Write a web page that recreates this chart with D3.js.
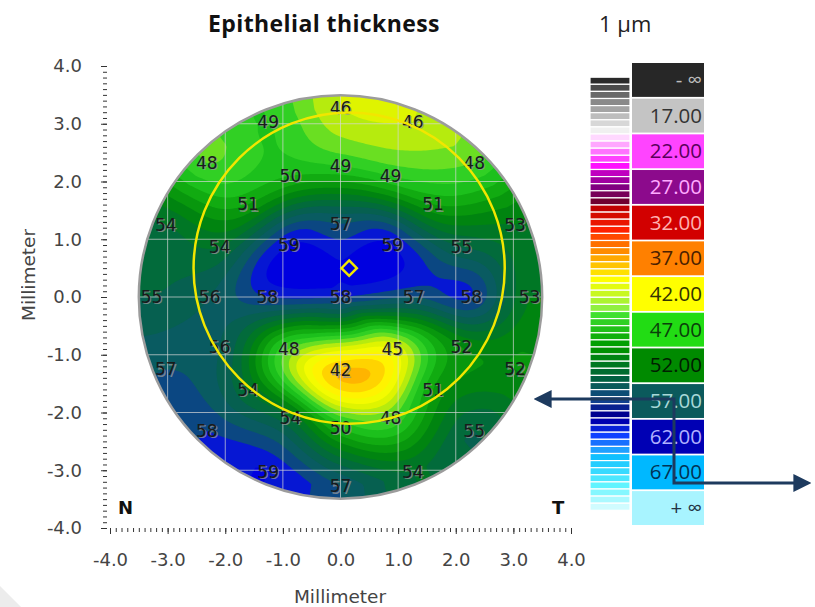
<!DOCTYPE html>
<html>
<head>
<meta charset="utf-8">
<script src="https://cdn.jsdelivr.net/npm/d3@7"></script>
<style>
  body { margin: 0; background: #fff; }
  svg { display: block; font-family: "DejaVu Sans", Verdana, sans-serif; }
</style>
</head>
<body>
<svg id="chart"></svg>
<script>
const svgWidth = 815;
const svgHeight = 607;

// zone values in µm, as printed on the map (angles counter-clockwise from +x)
const centerValue = 58;
const innerRing = [57, 59, 57, 59, 58, 48, 42, 45];
const middleRing = [58, 55, 51, 49, 49, 50, 51, 54, 56, 56, 54, 54, 50, 48, 51, 52];
const outerRing = [53, 53, 48, 46, 46, 49, 48, 54, 55, 57, 58, 59, 57, 54, 55, 52];
const ringRadius = [0, 1.27, 2.27, 3.28];
const mapRadius = 3.5;

// pupil / optical zone (mm)
const pupilCenter = [0.15, 0.5];
const zoneRadius = 2.7;

const axisTicks = [-4, -3, -2, -1, 0, 1, 2, 3, 4];

// colour key
const legendLabels = ["- ∞", "17.00", "22.00", "27.00", "32.00", "37.00", "42.00", "47.00", "52.00", "57.00", "62.00", "67.00", "+ ∞"];
const legendFill = ["#272727", "#c4c4c4", "#ff44ff", "#8c0a8c", "#d20000", "#ff8000", "#ffff00", "#22dc14", "#008a00", "#0b5a5c", "#0000b4", "#00b8ff", "#a8f4ff"];
const legendInk = ["#bdbdbd", "#333333", "#5a005a", "#ffaaff", "#ffb0b0", "#4a2000", "#333300", "#0a400a", "#002000", "#a8d8d8", "#b0b0ff", "#003355", "#223344"];
const stripeValues = [14, 15, 16, 17, 18, 19, 20, 21, 22, 23, 24, 25, 26, 27, 28, 29, 30, 31, 32, 33, 34, 35, 36, 37, 38, 39, 40, 41, 42, 43, 44, 45, 46, 47, 48, 49, 50, 51, 52, 53, 54, 55, 56, 57, 58, 59, 60, 61, 62, 63, 64, 65, 66, 67, 68, 69, 70, 71, 72, 73, 74];
const keyStops = [14, 17, 21, 22, 26, 27, 29, 31, 32, 35, 37, 41, 42, 46, 47, 51, 52, 56, 57, 59, 61, 62, 64, 66, 67, 71, 74];
const keyColors = ["#2a2a2a", "#8a8a8a", "#f0f0f0", "#ffd8ff", "#ff10ff", "#c000c0", "#800080", "#700030", "#c00000", "#ff2000", "#ff7000", "#ffe000", "#ffff00", "#90f040", "#40e030", "#00a000", "#009000", "#006040", "#0a5a5a", "#104090", "#000090", "#0000b0", "#1040ff", "#20a0ff", "#10c0ff", "#60f4ff", "#d0fcff"];

// surface colouring of the map
const surfaceStops = [40, 42, 43, 44, 46, 47, 48, 49.5, 51, 52.5, 54, 55.5, 56.8, 57.6, 58.3, 59, 60];
const surfaceColors = ["#ff9000", "#ffc000", "#ffe600", "#ffff00", "#d4f000", "#98e61c", "#3cd828", "#1cc01c", "#0ca00c", "#008410", "#007030", "#066050", "#0a5a66", "#0b4486", "#0820c8", "#0000f0", "#0000d0"];

const svg = d3.select("#chart")
  .attr("width", svgWidth)
  .attr("height", svgHeight);

const x = d3.scaleLinear().domain([-4, 4]).range([110, 571]);
const y = d3.scaleLinear().domain([-4, 4]).range([528, 66]);

const keyColor = d3.scaleLinear().domain(keyStops).range(keyColors).clamp(true);
const surfaceColor = d3.scaleLinear().domain(surfaceStops).range(surfaceColors).clamp(true);

// faint corner shape
svg.append("polygon")
  .attr("points", "0,586 21,607 0,607")
  .attr("fill", "#ececec");

// ---- thickness surface from the zone values ----
function cr(p0, p1, p2, p3, f) {
  return 0.5 * (2 * p1 + (p2 - p0) * f + (2 * p0 - 5 * p1 + 4 * p2 - p3) * f * f + (3 * p1 - p0 - 3 * p2 + p3) * f * f * f);
}
function ringAt(ring, a) {
  const n = ring.length;
  const t = (((a / (2 * Math.PI)) * n) % n + n) % n;
  const i = Math.floor(t), f = t - i;
  const g = k => ring[((k % n) + n) % n];
  return cr(g(i - 1), g(i), g(i + 1), g(i + 2), f);
}
function thickness(px, py) {
  const r = Math.hypot(px, py), a = Math.atan2(py, px);
  const rr = [-ringRadius[1], 0, ringRadius[1], ringRadius[2], ringRadius[3], ringRadius[3] + 1];
  const v = [ringAt(innerRing, a + Math.PI), centerValue, ringAt(innerRing, a),
             ringAt(middleRing, a), ringAt(outerRing, a), ringAt(outerRing, a)];
  if (r >= rr[4]) return v[4];
  let k = 1;
  while (r > rr[k + 1]) k++;
  const f = (r - rr[k]) / (rr[k + 1] - rr[k]);
  return cr(v[k - 1], v[k], v[k + 1], v[k + 2], f);
}

const step = 0.04;
const n = Math.round(7.2 / step) + 1;
const grid = new Float64Array(n * n);
for (let j = 0; j < n; j++) {
  for (let i = 0; i < n; i++) {
    grid[i + j * n] = thickness(-3.6 + i * step, 3.6 - j * step);
  }
}
const contours = d3.contours().size([n, n]).thresholds(d3.range(36, 66, 1))(grid);
const proj = d3.geoTransform({
  point(gx, gy) { this.stream.point(x(-3.6 + (gx - 0.5) * step), y(3.6 - (gy - 0.5) * step)); }
});
const path = d3.geoPath(proj);

const rPx = x(mapRadius) - x(0);
const defs = svg.append("defs");
defs.append("clipPath").attr("id", "disc")
  .append("circle")
  .attr("cx", x(0)).attr("cy", y(0)).attr("r", rPx);
defs.append("clipPath").attr("id", "edge")
  .append("rect").attr("x", 21).attr("y", 0).attr("width", 200).attr("height", svgHeight);

const map = svg.append("g").attr("clip-path", "url(#disc)");
map.selectAll("path")
  .data(contours)
  .enter().append("path")
  .attr("d", path)
  .attr("fill", d => surfaceColor(d.value + 0.5));

// grid lines
const gridVals = [-3, -2, -1, 0, 1, 2, 3];
map.selectAll("line.v").data(gridVals).enter().append("line")
  .attr("x1", d => x(d)).attr("x2", d => x(d))
  .attr("y1", y(3.6)).attr("y2", y(-3.6))
  .attr("stroke", "rgba(215,215,215,0.7)").attr("stroke-width", 1);
map.selectAll("line.h").data(gridVals).enter().append("line")
  .attr("y1", d => y(d)).attr("y2", d => y(d))
  .attr("x1", x(-3.6)).attr("x2", x(3.6))
  .attr("stroke", "rgba(215,215,215,0.7)").attr("stroke-width", 1);

svg.append("circle")
  .attr("cx", x(0)).attr("cy", y(0)).attr("r", rPx)
  .attr("fill", "none").attr("stroke", "#9c9c9c").attr("stroke-width", 2.5);

// zone labels
const zones = [{ r: 0, a: 0, v: centerValue }];
[innerRing, middleRing, outerRing].forEach((ring, ri) => {
  ring.forEach((v, k) => zones.push({ r: ringRadius[ri + 1], a: k * 2 * Math.PI / ring.length, v }));
});
const zoneG = svg.append("g")
  .attr("font-size", 17)
  .attr("text-anchor", "middle")
  .attr("dominant-baseline", "central");
zoneG.selectAll("text.shadow").data(zones).enter().append("text")
  .attr("x", d => x(d.r * Math.cos(d.a)) + 1.2)
  .attr("y", d => y(d.r * Math.sin(d.a)) + 1.2)
  .attr("fill", "rgba(150,150,150,0.75)")
  .text(d => d.v);
zoneG.selectAll("text.val").data(zones).enter().append("text")
  .attr("x", d => x(d.r * Math.cos(d.a)))
  .attr("y", d => y(d.r * Math.sin(d.a)))
  .attr("fill", "#1a1a1a")
  .text(d => d.v);

// optical zone and pupil centre
svg.append("circle")
  .attr("cx", x(pupilCenter[0])).attr("cy", y(pupilCenter[1]))
  .attr("r", x(zoneRadius) - x(0))
  .attr("fill", "none").attr("stroke", "#f2e600").attr("stroke-width", 2.5);
svg.append("path")
  .attr("d", d3.symbol(d3.symbolDiamond2, 150)())
  .attr("transform", `translate(${x(pupilCenter[0])},${y(pupilCenter[1])})`)
  .attr("fill", "none").attr("stroke", "#f2e600").attr("stroke-width", 2.5);

// ---- axes ----
const fmt = d => d.toFixed(1);
const minorTicks = d3.range(-40, 41).map(d => d / 10);
svg.append("g")
  .attr("transform", `translate(107,0)`)
  .call(d3.axisLeft(y).tickValues(minorTicks).tickSize(4).tickFormat(""))
  .call(g => g.select(".domain").remove())
  .call(g => g.selectAll("line").attr("stroke", "#333"));
svg.append("g")
  .attr("transform", `translate(107,0)`)
  .call(d3.axisLeft(y).tickValues(axisTicks).tickSize(6).tickPadding(19).tickFormat(fmt))
  .call(g => g.select(".domain").remove())
  .call(g => g.selectAll("line").attr("stroke", "#333"))
  .call(g => g.selectAll("text").attr("font-size", 18).attr("fill", "#444").attr("font-family", "DejaVu Sans"));

svg.append("g")
  .attr("transform", `translate(0,528)`)
  .call(d3.axisBottom(x).tickValues(minorTicks).tickSize(4).tickFormat(""))
  .call(g => g.select(".domain").remove())
  .call(g => g.selectAll("line").attr("stroke", "#333"));
svg.append("g")
  .attr("transform", `translate(0,528)`)
  .call(d3.axisBottom(x).tickValues(axisTicks).tickSize(6).tickPadding(19).tickFormat(fmt))
  .call(g => g.select(".domain").remove())
  .call(g => g.selectAll("line").attr("stroke", "#333"))
  .call(g => g.selectAll("text").attr("font-size", 18).attr("fill", "#444").attr("font-family", "DejaVu Sans"));

svg.append("text")
  .attr("x", 340).attr("y", 603)
  .attr("text-anchor", "middle")
  .attr("font-size", 18.5).attr("fill", "#444")
  .text("Millimeter");
svg.append("g").attr("clip-path", "url(#edge)")
  .append("text")
  .attr("transform", "translate(35,275) rotate(-90)")
  .attr("text-anchor", "middle")
  .attr("font-size", 18.5).attr("fill", "#444")
  .text("Millimeter");

svg.append("text").attr("x", 118).attr("y", 514)
  .attr("font-size", 18).attr("font-weight", "bold").attr("fill", "#111").text("N");
svg.append("text").attr("x", 552).attr("y", 514)
  .attr("font-size", 18).attr("font-weight", "bold").attr("fill", "#111").text("T");

// title
svg.append("text")
  .attr("x", 324).attr("y", 32)
  .attr("text-anchor", "middle")
  .attr("font-family", "Open Sans").attr("font-weight", "bold").attr("font-size", 23)
  .attr("letter-spacing", 0.4)
  .attr("fill", "#111")
  .text("Epithelial thickness");
svg.append("text")
  .attr("x", 599).attr("y", 32)
  .attr("font-family", "Open Sans").attr("font-size", 22)
  .attr("fill", "#222")
  .text("1 µm");

// ---- colour key ----
const band = d3.scaleBand().domain(legendLabels).range([63, 525]).paddingInner(0.05);
const key = svg.append("g");
key.selectAll("rect.box").data(legendLabels).enter().append("rect")
  .attr("x", 632).attr("width", 72)
  .attr("y", d => band(d)).attr("height", band.bandwidth())
  .attr("fill", (d, i) => legendFill[i]);
key.selectAll("text").data(legendLabels).enter().append("text")
  .attr("x", 702)
  .attr("y", d => band(d) + band.bandwidth() / 2 + 7)
  .attr("text-anchor", "end")
  .attr("font-family", "Open Sans").attr("font-size", 20.5)
  .attr("fill", (d, i) => legendInk[i])
  .text(d => d);

const stripeY = d3.scaleLinear().domain([17, 22]).range([98.5, 134]);
key.selectAll("rect.stripe").data(stripeValues).enter().append("rect")
  .attr("x", 590).attr("width", 40)
  .attr("y", d => stripeY(d)).attr("height", d => stripeY(d + 1) - stripeY(d))
  .attr("fill", d => keyColor(d))
  .attr("stroke", "#fff").attr("stroke-width", 1.2);

// ---- annotation arrows ----
const arrowColor = "#1d3a5e";
defs.append("marker").attr("id", "head")
  .attr("viewBox", "0 0 10 10").attr("refX", 2).attr("refY", 5)
  .attr("markerWidth", 6).attr("markerHeight", 6)
  .attr("markerUnits", "strokeWidth")
  .attr("orient", "auto-start-reverse")
  .append("path").attr("d", "M0,0L10,5L0,10Z").attr("fill", arrowColor);
svg.append("path")
  .attr("d", d3.line()([[548, 399], [674, 399], [674, 483], [797, 483]]))
  .attr("fill", "none").attr("stroke", arrowColor).attr("stroke-width", 3)
  .attr("marker-start", "url(#head)").attr("marker-end", "url(#head)");
</script>
</body>
</html>
